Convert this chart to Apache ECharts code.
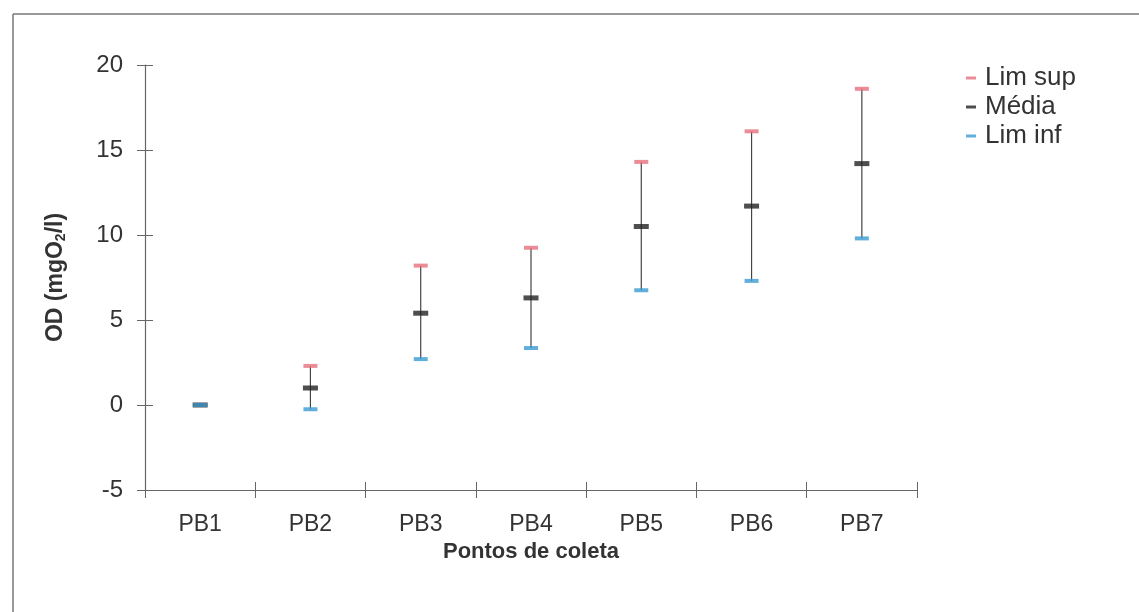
<!DOCTYPE html>
<html>
<head>
<meta charset="utf-8">
<script src="https://cdn.jsdelivr.net/npm/echarts@6/dist/echarts.min.js"></script>
<style>
  html, body { margin: 0; padding: 0; background: #fff; }
  #chart { width: 1139px; height: 612px; }
</style>
</head>
<body>
<div id="chart"></div>
<script>
// pontos de coleta
var categories = ['PB1', 'PB2', 'PB3', 'PB4', 'PB5', 'PB6', 'PB7'];
// valores
var limSup = [0, 2.3, 8.2, 9.25, 14.3, 16.1, 18.6];
var media = [0, 1.0, 5.4, 6.3, 10.5, 11.7, 14.2];
var limInf = [0, -0.25, 2.7, 3.35, 6.75, 7.3, 9.8];
var yTicks = { min: -5, max: 20, step: 5 };

var font = 'Liberation Sans, Arial, sans-serif';
var red = '#e66f7d';
var black = '#222222';
var blue = '#3b9bd2';

var chart = echarts.init(document.getElementById('chart'));

// dados da barra vertical (inf -> sup)
var whiskers = categories.map(function (c, i) {
  return [i, limInf[i], limSup[i]];
});

var option = {
  backgroundColor: '#fff',
  animation: false,
  // moldura (só topo e esquerda aparecem)
  graphic: [
    { type: 'line', shape: { x1: 13, y1: 14, x2: 1139, y2: 14 }, style: { stroke: '#777', lineWidth: 1.5 } },
    { type: 'line', shape: { x1: 13, y1: 14, x2: 13, y2: 612 }, style: { stroke: '#777', lineWidth: 1.5 } }
  ],
  grid: { left: 145, right: 222, top: 65, bottom: 122 },
  legend: {
    orient: 'vertical',
    left: 961,
    top: 60,
    itemWidth: 10,
    itemHeight: 3,
    itemGap: 3,
    icon: 'rect',
    textStyle: { fontFamily: font, fontSize: 26, color: '#333', padding: [0, 0, 0, 4] },
    data: ['Lim sup', 'Média', 'Lim inf']
  },
  xAxis: [
    {
      type: 'category',
      data: categories,
      boundaryGap: true,
      name: 'Pontos de coleta',
      nameLocation: 'middle',
      nameGap: 51,
      nameTextStyle: { fontFamily: font, fontSize: 22, fontWeight: 'bold', color: '#333' },
      axisLine: { onZero: false, lineStyle: { color: '#666', width: 1.2 } },
      axisTick: { show: true, length: 8, lineStyle: { color: '#666' } },
      axisLabel: { fontFamily: font, fontSize: 23, color: '#333', margin: 23 }
    },
    {
      type: 'category',
      data: categories,
      position: 'bottom',
      axisLine: { show: false, onZero: false },
      axisTick: { show: true, inside: true, length: 8, lineStyle: { color: '#666' } },
      axisLabel: { show: false }
    }
  ],
  yAxis: [
    {
      type: 'value',
      min: yTicks.min,
      max: yTicks.max,
      interval: yTicks.step,
      name: 'OD (mgO{sub|2}/l)',
      nameLocation: 'middle',
      nameGap: 77,
      nameRotate: 90,
      nameTextStyle: {
        fontFamily: font, fontSize: 23, fontWeight: 'bold', color: '#333',
        rich: { sub: { fontFamily: font, fontSize: 14, fontWeight: 'bold', color: '#333', verticalAlign: 'bottom', padding: [10, 0, 0, 0] } }
      },
      splitLine: { show: false },
      axisLine: { show: true, lineStyle: { color: '#666', width: 1.2 } },
      axisTick: { show: true, length: 8, lineStyle: { color: '#666' } },
      axisLabel: { fontFamily: font, fontSize: 24, color: '#333', margin: 22 }
    },
    {
      type: 'value',
      position: 'left',
      min: yTicks.min,
      max: yTicks.max,
      interval: yTicks.step,
      splitLine: { show: false },
      axisLine: { show: false },
      axisTick: { show: true, inside: true, length: 8, lineStyle: { color: '#666' } },
      axisLabel: { show: false }
    }
  ],
  series: [
    {
      type: 'custom',
      name: 'barra',
      data: whiskers,
      z: 1,
      renderItem: function (params, api) {
        var lo = api.coord([api.value(0), api.value(1)]);
        var hi = api.coord([api.value(0), api.value(2)]);
        return {
          type: 'line',
          shape: { x1: lo[0], y1: lo[1], x2: hi[0], y2: hi[1] },
          style: { stroke: '#444', lineWidth: 1.2 }
        };
      }
    },
    {
      type: 'scatter', name: 'Lim sup', data: limSup, z: 2,
      symbol: 'rect', symbolSize: [14, 4], itemStyle: { color: red }
    },
    {
      type: 'scatter', name: 'Média', data: media, z: 3,
      symbol: 'rect', symbolSize: [15, 5], itemStyle: { color: black }
    },
    {
      type: 'scatter', name: 'Lim inf', data: limInf, z: 4,
      symbol: 'rect', symbolSize: [14, 4], itemStyle: { color: blue }
    }
  ]
};

chart.setOption(option);
</script>
</body>
</html>
